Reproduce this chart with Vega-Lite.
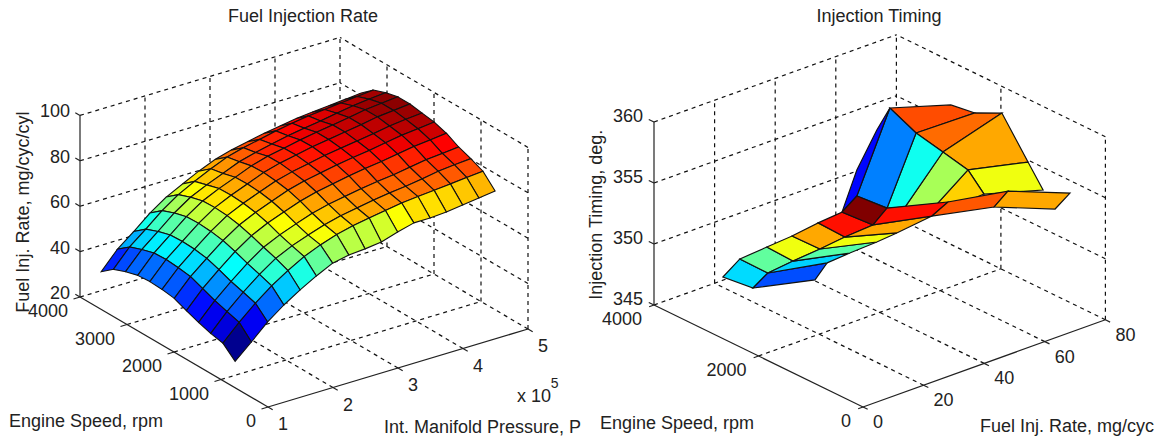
{"$schema":"https://vega.github.io/schema/vega-lite/v6.json","width":1173,"height":444,"padding":0,"autosize":{"type":"fit","contains":"padding"},"background":"white","config":{"view":{"stroke":null}},
"datasets":{
"fuel":[
{"v":1611,"p":5,"s":3549,"z":81},{"v":1511,"p":4.75,"s":3549,"z":80.3},{"v":1411,"p":4.5,"s":3549,"z":79.6},{"v":1311,"p":4.25,"s":3549,"z":79},{"v":1211,"p":4,"s":3549,"z":78.3},{"v":1111,"p":3.75,"s":3549,"z":77.2},{"v":1011,"p":3.5,"s":3549,"z":76},{"v":911,"p":3.25,"s":3549,"z":74.5},{"v":811,"p":3,"s":3549,"z":73},{"v":711,"p":2.75,"s":3549,"z":71},{"v":611,"p":2.5,"s":3549,"z":68},{"v":511,"p":2.25,"s":3549,"z":64.5},{"v":411,"p":2,"s":3549,"z":60.9},{"v":311,"p":1.75,"s":3549,"z":56},{"v":211,"p":1.5,"s":3549,"z":50},{"v":111,"p":1.25,"s":3549,"z":44.4},{"v":11,"p":1,"s":3549,"z":36.6},
{"v":1610,"p":5,"s":3290,"z":85.4},{"v":1510,"p":4.75,"s":3290,"z":84.7},{"v":1410,"p":4.5,"s":3290,"z":84},{"v":1310,"p":4.25,"s":3290,"z":83.3},{"v":1210,"p":4,"s":3290,"z":82.6},{"v":1110,"p":3.75,"s":3290,"z":81.5},{"v":1010,"p":3.5,"s":3290,"z":80.3},{"v":910,"p":3.25,"s":3290,"z":78.7},{"v":810,"p":3,"s":3290,"z":77.2},{"v":710,"p":2.75,"s":3290,"z":75.2},{"v":610,"p":2.5,"s":3290,"z":72.2},{"v":510,"p":2.25,"s":3290,"z":68.8},{"v":410,"p":2,"s":3290,"z":65.1},{"v":310,"p":1.75,"s":3290,"z":60.2},{"v":210,"p":1.5,"s":3290,"z":54.2},{"v":110,"p":1.25,"s":3290,"z":48.5},{"v":10,"p":1,"s":3290,"z":40.8},
{"v":1609,"p":5,"s":3031,"z":87.4},{"v":1509,"p":4.75,"s":3031,"z":86.7},{"v":1409,"p":4.5,"s":3031,"z":85.9},{"v":1309,"p":4.25,"s":3031,"z":84.8},{"v":1209,"p":4,"s":3031,"z":83.5},{"v":1109,"p":3.75,"s":3031,"z":82.5},{"v":1009,"p":3.5,"s":3031,"z":81.3},{"v":909,"p":3.25,"s":3031,"z":79.8},{"v":809,"p":3,"s":3031,"z":78.2},{"v":709,"p":2.75,"s":3031,"z":76.3},{"v":609,"p":2.5,"s":3031,"z":73.3},{"v":509,"p":2.25,"s":3031,"z":70.4},{"v":409,"p":2,"s":3031,"z":67.1},{"v":309,"p":1.75,"s":3031,"z":62.3},{"v":209,"p":1.5,"s":3031,"z":56.3},{"v":109,"p":1.25,"s":3031,"z":50.5},{"v":9,"p":1,"s":3031,"z":42.9},
{"v":1608,"p":5,"s":2772,"z":88.7},{"v":1508,"p":4.75,"s":2772,"z":88},{"v":1408,"p":4.5,"s":2772,"z":87.3},{"v":1308,"p":4.25,"s":2772,"z":86},{"v":1208,"p":4,"s":2772,"z":84.9},{"v":1108,"p":3.75,"s":2772,"z":83.8},{"v":1008,"p":3.5,"s":2772,"z":82.6},{"v":908,"p":3.25,"s":2772,"z":81.1},{"v":808,"p":3,"s":2772,"z":79.7},{"v":708,"p":2.75,"s":2772,"z":77.6},{"v":608,"p":2.5,"s":2772,"z":74.7},{"v":508,"p":2.25,"s":2772,"z":71.9},{"v":408,"p":2,"s":2772,"z":68.6},{"v":308,"p":1.75,"s":2772,"z":63.8},{"v":208,"p":1.5,"s":2772,"z":57.9},{"v":108,"p":1.25,"s":2772,"z":52.1},{"v":8,"p":1,"s":2772,"z":44.4},
{"v":1607,"p":5,"s":2513,"z":88.7},{"v":1507,"p":4.75,"s":2513,"z":88},{"v":1407,"p":4.5,"s":2513,"z":87.3},{"v":1307,"p":4.25,"s":2513,"z":86},{"v":1207,"p":4,"s":2513,"z":84.9},{"v":1107,"p":3.75,"s":2513,"z":83.8},{"v":1007,"p":3.5,"s":2513,"z":82.7},{"v":907,"p":3.25,"s":2513,"z":81.2},{"v":807,"p":3,"s":2513,"z":79.8},{"v":707,"p":2.75,"s":2513,"z":77.8},{"v":607,"p":2.5,"s":2513,"z":74.9},{"v":507,"p":2.25,"s":2513,"z":72.1},{"v":407,"p":2,"s":2513,"z":68.8},{"v":307,"p":1.75,"s":2513,"z":64},{"v":207,"p":1.5,"s":2513,"z":58.2},{"v":107,"p":1.25,"s":2513,"z":52.4},{"v":7,"p":1,"s":2513,"z":44.8},
{"v":1606,"p":5,"s":2254,"z":87.8},{"v":1506,"p":4.75,"s":2254,"z":87.2},{"v":1406,"p":4.5,"s":2254,"z":86.4},{"v":1306,"p":4.25,"s":2254,"z":85.2},{"v":1206,"p":4,"s":2254,"z":84.1},{"v":1106,"p":3.75,"s":2254,"z":83.1},{"v":1006,"p":3.5,"s":2254,"z":82},{"v":906,"p":3.25,"s":2254,"z":80.5},{"v":806,"p":3,"s":2254,"z":79.1},{"v":706,"p":2.75,"s":2254,"z":77.2},{"v":606,"p":2.5,"s":2254,"z":74.5},{"v":506,"p":2.25,"s":2254,"z":71.7},{"v":406,"p":2,"s":2254,"z":68.4},{"v":306,"p":1.75,"s":2254,"z":63.6},{"v":206,"p":1.5,"s":2254,"z":57.9},{"v":106,"p":1.25,"s":2254,"z":51.9},{"v":6,"p":1,"s":2254,"z":44.5},
{"v":1605,"p":5,"s":1995,"z":87},{"v":1505,"p":4.75,"s":1995,"z":86.2},{"v":1405,"p":4.5,"s":1995,"z":85.5},{"v":1305,"p":4.25,"s":1995,"z":84.3},{"v":1205,"p":4,"s":1995,"z":83.1},{"v":1105,"p":3.75,"s":1995,"z":82.1},{"v":1005,"p":3.5,"s":1995,"z":81},{"v":905,"p":3.25,"s":1995,"z":79.6},{"v":805,"p":3,"s":1995,"z":78.2},{"v":705,"p":2.75,"s":1995,"z":76.3},{"v":605,"p":2.5,"s":1995,"z":73.6},{"v":505,"p":2.25,"s":1995,"z":70.8},{"v":405,"p":2,"s":1995,"z":67.4},{"v":305,"p":1.75,"s":1995,"z":62.7},{"v":205,"p":1.5,"s":1995,"z":57},{"v":105,"p":1.25,"s":1995,"z":51.1},{"v":5,"p":1,"s":1995,"z":43.7},
{"v":1604,"p":5,"s":1736,"z":85.2},{"v":1504,"p":4.75,"s":1736,"z":84.4},{"v":1404,"p":4.5,"s":1736,"z":83.7},{"v":1304,"p":4.25,"s":1736,"z":82.5},{"v":1204,"p":4,"s":1736,"z":81.3},{"v":1104,"p":3.75,"s":1736,"z":80.4},{"v":1004,"p":3.5,"s":1736,"z":79.3},{"v":904,"p":3.25,"s":1736,"z":77.9},{"v":804,"p":3,"s":1736,"z":76.5},{"v":704,"p":2.75,"s":1736,"z":74.6},{"v":604,"p":2.5,"s":1736,"z":72},{"v":504,"p":2.25,"s":1736,"z":69.3},{"v":404,"p":2,"s":1736,"z":65.8},{"v":304,"p":1.75,"s":1736,"z":61},{"v":204,"p":1.5,"s":1736,"z":55.2},{"v":104,"p":1.25,"s":1736,"z":49},{"v":4,"p":1,"s":1736,"z":41.4},
{"v":1603,"p":5,"s":1477,"z":82.3},{"v":1503,"p":4.75,"s":1477,"z":81.6},{"v":1403,"p":4.5,"s":1477,"z":81},{"v":1303,"p":4.25,"s":1477,"z":79.8},{"v":1203,"p":4,"s":1477,"z":78.6},{"v":1103,"p":3.75,"s":1477,"z":77.8},{"v":1003,"p":3.5,"s":1477,"z":76.8},{"v":903,"p":3.25,"s":1477,"z":75.5},{"v":803,"p":3,"s":1477,"z":74.2},{"v":703,"p":2.75,"s":1477,"z":72.4},{"v":603,"p":2.5,"s":1477,"z":69.9},{"v":503,"p":2.25,"s":1477,"z":67.2},{"v":403,"p":2,"s":1477,"z":63.9},{"v":303,"p":1.75,"s":1477,"z":58.9},{"v":203,"p":1.5,"s":1477,"z":53.1},{"v":103,"p":1.25,"s":1477,"z":46.8},{"v":3,"p":1,"s":1477,"z":39.4},
{"v":1602,"p":5,"s":1218,"z":80.3},{"v":1502,"p":4.75,"s":1218,"z":79.7},{"v":1402,"p":4.5,"s":1218,"z":79},{"v":1302,"p":4.25,"s":1218,"z":77.8},{"v":1202,"p":4,"s":1218,"z":76.7},{"v":1102,"p":3.75,"s":1218,"z":75.9},{"v":1002,"p":3.5,"s":1218,"z":74.9},{"v":902,"p":3.25,"s":1218,"z":73.6},{"v":802,"p":3,"s":1218,"z":72.3},{"v":702,"p":2.75,"s":1218,"z":70.5},{"v":602,"p":2.5,"s":1218,"z":68.1},{"v":502,"p":2.25,"s":1218,"z":65.5},{"v":402,"p":2,"s":1218,"z":62.1},{"v":302,"p":1.75,"s":1218,"z":57.2},{"v":202,"p":1.5,"s":1218,"z":51.5},{"v":102,"p":1.25,"s":1218,"z":45.1},{"v":2,"p":1,"s":1218,"z":37.7},
{"v":1601,"p":5,"s":959,"z":77.9},{"v":1501,"p":4.75,"s":959,"z":77.3},{"v":1401,"p":4.5,"s":959,"z":76.6},{"v":1301,"p":4.25,"s":959,"z":75.9},{"v":1201,"p":4,"s":959,"z":75.3},{"v":1101,"p":3.75,"s":959,"z":74.6},{"v":1001,"p":3.5,"s":959,"z":73.5},{"v":901,"p":3.25,"s":959,"z":72.3},{"v":801,"p":3,"s":959,"z":71},{"v":701,"p":2.75,"s":959,"z":69.3},{"v":601,"p":2.5,"s":959,"z":66.9},{"v":501,"p":2.25,"s":959,"z":63.9},{"v":401,"p":2,"s":959,"z":59.9},{"v":301,"p":1.75,"s":959,"z":55.3},{"v":201,"p":1.5,"s":959,"z":49.8},{"v":101,"p":1.25,"s":959,"z":43.5},{"v":1,"p":1,"s":959,"z":36.5},
{"v":1600,"p":5,"s":700,"z":72.3},{"v":1500,"p":4.75,"s":700,"z":71.4},{"v":1400,"p":4.5,"s":700,"z":70.4},{"v":1300,"p":4.25,"s":700,"z":69.5},{"v":1200,"p":4,"s":700,"z":69},{"v":1100,"p":3.75,"s":700,"z":69},{"v":1000,"p":3.5,"s":700,"z":67.1},{"v":900,"p":3.25,"s":700,"z":64.9},{"v":800,"p":3,"s":700,"z":64},{"v":700,"p":2.75,"s":700,"z":63.4},{"v":600,"p":2.5,"s":700,"z":62},{"v":500,"p":2.25,"s":700,"z":58.5},{"v":400,"p":2,"s":700,"z":54.5},{"v":300,"p":1.75,"s":700,"z":50},{"v":200,"p":1.5,"s":700,"z":44.7},{"v":100,"p":1.25,"s":700,"z":38},{"v":0,"p":1,"s":700,"z":31.6}
],
"frameL":[
{"k":"g","p1":2,"s1":0,"z1":20,"p2":2,"s2":4000,"z2":20},{"k":"g","p1":3,"s1":0,"z1":20,"p2":3,"s2":4000,"z2":20},{"k":"g","p1":4,"s1":0,"z1":20,"p2":4,"s2":4000,"z2":20},{"k":"g","p1":5,"s1":0,"z1":20,"p2":5,"s2":4000,"z2":20},
{"k":"g","p1":1,"s1":1000,"z1":20,"p2":5,"s2":1000,"z2":20},{"k":"g","p1":1,"s1":2000,"z1":20,"p2":5,"s2":2000,"z2":20},{"k":"g","p1":1,"s1":3000,"z1":20,"p2":5,"s2":3000,"z2":20},{"k":"g","p1":1,"s1":4000,"z1":20,"p2":5,"s2":4000,"z2":20},
{"k":"g","p1":2,"s1":4000,"z1":20,"p2":2,"s2":4000,"z2":100},{"k":"g","p1":3,"s1":4000,"z1":20,"p2":3,"s2":4000,"z2":100},{"k":"g","p1":4,"s1":4000,"z1":20,"p2":4,"s2":4000,"z2":100},{"k":"g","p1":5,"s1":4000,"z1":20,"p2":5,"s2":4000,"z2":100},
{"k":"g","p1":1,"s1":4000,"z1":40,"p2":5,"s2":4000,"z2":40},{"k":"g","p1":1,"s1":4000,"z1":60,"p2":5,"s2":4000,"z2":60},{"k":"g","p1":1,"s1":4000,"z1":80,"p2":5,"s2":4000,"z2":80},{"k":"g","p1":1,"s1":4000,"z1":100,"p2":5,"s2":4000,"z2":100},
{"k":"g","p1":5,"s1":0,"z1":20,"p2":5,"s2":0,"z2":100},{"k":"g","p1":5,"s1":1000,"z1":20,"p2":5,"s2":1000,"z2":100},{"k":"g","p1":5,"s1":2000,"z1":20,"p2":5,"s2":2000,"z2":100},{"k":"g","p1":5,"s1":3000,"z1":20,"p2":5,"s2":3000,"z2":100},
{"k":"g","p1":5,"s1":0,"z1":40,"p2":5,"s2":4000,"z2":40},{"k":"g","p1":5,"s1":0,"z1":60,"p2":5,"s2":4000,"z2":60},{"k":"g","p1":5,"s1":0,"z1":80,"p2":5,"s2":4000,"z2":80},{"k":"g","p1":5,"s1":0,"z1":100,"p2":5,"s2":4000,"z2":100},
{"k":"a","p1":1,"s1":0,"z1":20,"p2":1,"s2":4000,"z2":20},{"k":"a","p1":1,"s1":0,"z1":20,"p2":5,"s2":0,"z2":20},{"k":"a","p1":1,"s1":4000,"z1":20,"p2":1,"s2":4000,"z2":100},
{"k":"a","p1":0.9,"s1":0,"z1":20,"p2":1,"s2":0,"z2":20},{"k":"a","p1":0.9,"s1":1000,"z1":20,"p2":1,"s2":1000,"z2":20},{"k":"a","p1":0.9,"s1":2000,"z1":20,"p2":1,"s2":2000,"z2":20},{"k":"a","p1":0.9,"s1":3000,"z1":20,"p2":1,"s2":3000,"z2":20},{"k":"a","p1":0.9,"s1":4000,"z1":20,"p2":1,"s2":4000,"z2":20},
{"k":"a","p1":1,"s1":-100,"z1":20,"p2":1,"s2":0,"z2":20},{"k":"a","p1":2,"s1":-100,"z1":20,"p2":2,"s2":0,"z2":20},{"k":"a","p1":3,"s1":-100,"z1":20,"p2":3,"s2":0,"z2":20},{"k":"a","p1":4,"s1":-100,"z1":20,"p2":4,"s2":0,"z2":20},{"k":"a","p1":5,"s1":-100,"z1":20,"p2":5,"s2":0,"z2":20},
{"k":"a","p1":1,"s1":4000,"z1":20,"p2":1,"s2":4100,"z2":20},{"k":"a","p1":1,"s1":4000,"z1":40,"p2":1,"s2":4100,"z2":40},{"k":"a","p1":1,"s1":4000,"z1":60,"p2":1,"s2":4100,"z2":60},{"k":"a","p1":1,"s1":4000,"z1":80,"p2":1,"s2":4100,"z2":80},{"k":"a","p1":1,"s1":4000,"z1":100,"p2":1,"s2":4100,"z2":100}
],
"textL":[
{"label":"0","a":"s","p":1,"s":0,"z":20},{"label":"1000","a":"s","p":1,"s":1000,"z":20},{"label":"2000","a":"s","p":1,"s":2000,"z":20},{"label":"3000","a":"s","p":1,"s":3000,"z":20},{"label":"4000","a":"s","p":1,"s":4000,"z":20},
{"label":"1","a":"p","p":1,"s":0,"z":20},{"label":"2","a":"p","p":2,"s":0,"z":20},{"label":"3","a":"p","p":3,"s":0,"z":20},{"label":"4","a":"p","p":4,"s":0,"z":20},{"label":"5","a":"p","p":5,"s":0,"z":20},
{"label":"20","a":"z","p":1,"s":4000,"z":20},{"label":"40","a":"z","p":1,"s":4000,"z":40},{"label":"60","a":"z","p":1,"s":4000,"z":60},{"label":"80","a":"z","p":1,"s":4000,"z":80},{"label":"100","a":"z","p":1,"s":4000,"z":100},
{"label":"Fuel Injection Rate","a":"t","p":1.538,"s":0,"z":187.2},{"label":"Engine Speed, rpm","a":"t","p":-1.8,"s":0,"z":37.4},
{"label":"Fuel Inj. Rate, mg/cyc/cyl","a":"v","p":-2.754,"s":0,"z":138.1},
{"label":"Int. Manifold Pressure, P","a":"l","p":2.785,"s":0,"z":-4.6},{"label":"x 10","a":"e","p":4.83,"s":0,"z":-8.5},{"label":"5","a":"u","p":5.35,"s":0,"z":-7.3}
],
"timingVertices":[
{"id":"a","F":12.4,"s":3400,"z":347.44},{"id":"b","F":18,"s":3400,"z":348.42},{"id":"e","F":26.9,"s":3400,"z":348.6},{"id":"f","F":35.2,"s":3400,"z":348.76},{"id":"g","F":43.8,"s":3400,"z":349.07},{"id":"h","F":51.7,"s":3400,"z":349.25},{"id":"m","F":56.6,"s":3400,"z":350.13},{"id":"t0","F":67.5,"s":3400,"z":356.37},{"id":"b1","F":56.6,"s":3400,"z":352.26},{"id":"b2","F":63.2,"s":3400,"z":354.95},
{"id":"c","F":12,"s":2800,"z":347.83},{"id":"d","F":16.9,"s":2800,"z":348.62},{"id":"n2","F":25.2,"s":2800,"z":348.86},{"id":"n3","F":34.1,"s":2800,"z":349.05},{"id":"n4","F":42.3,"s":2800,"z":349.3},{"id":"n5","F":51.6,"s":2800,"z":349.46},{"id":"n6","F":56.2,"s":2800,"z":350.43},{"id":"t1","F":65.8,"s":2800,"z":355.73},
{"id":"x2","F":22.1,"s":2200,"z":348.84},{"id":"x1","F":26.1,"s":2200,"z":349.88},{"id":"x3","F":33.6,"s":2200,"z":350.02},{"id":"x4","F":42.5,"s":2200,"z":350.13},{"id":"x5","F":49.1,"s":2200,"z":350.28},{"id":"x6","F":60.7,"s":2200,"z":350.63},{"id":"x7","F":66,"s":2200,"z":351.31},{"id":"t2","F":64.3,"s":2200,"z":355.56},{"id":"h1","F":51.8,"s":2200,"z":352.16},{"id":"h2","F":62.4,"s":2200,"z":351.47},
{"id":"y6","F":69.1,"s":1500,"z":352.08},{"id":"y7","F":73.7,"s":1500,"z":352.98},{"id":"t3","F":60.5,"s":1500,"z":355.89},{"id":"t4","F":65.8,"s":1500,"z":353.44},{"id":"h3","F":49.6,"s":1500,"z":353.17},
{"id":"z6","F":70.3,"s":400,"z":354.11},{"id":"z7","F":75.2,"s":400,"z":354.98},
{"id":"u1","F":72.1,"s":2500,"z":358.09},{"id":"u2","F":80,"s":2500,"z":356.73},{"id":"u3","F":78.6,"s":1900,"z":358.1},{"id":"u4","F":78.6,"s":1400,"z":355.13},{"id":"u5","F":78.4,"s":1100,"z":353.48}
],
"timingCells":[
{"cell":"c01","t":0.8,"v":["t0","u1","u2","t1"],"n":[0,1,2,3]},{"cell":"c02","t":0.77,"v":["t1","u2","u3","t2"],"n":[0,1,2,3]},{"cell":"c03","t":0.71,"v":["t2","u3","u4","t3"],"n":[0,1,2,3]},{"cell":"c04","t":0.61,"v":["t3","u4","u5","t4"],"n":[0,1,2,3]},{"cell":"c05","t":0.67,"v":["t3","t4","h3","h2"],"n":[0,1,2,3]},{"cell":"c06","t":0.54,"v":["t2","t3","h2","h1"],"n":[0,1,2,3]},{"cell":"c07","t":0.39,"v":["t1","t2","h1","n6"],"n":[0,1,2,3]},{"cell":"c08","t":0.25,"v":["m","t0","t1","n6"],"n":[0,1,2,3]},{"cell":"c09","t":0.13,"v":["h","b1","b2","t0","m"],"n":[0,1,2,3,4]},
{"cell":"c10","t":0.34,"v":["a","b","d","c"],"n":[0,1,2,3]},{"cell":"c11","t":0.47,"v":["b","e","n2","d"],"n":[0,1,2,3]},{"cell":"c12","t":0.61,"v":["e","f","n3","n2"],"n":[0,1,2,3]},{"cell":"c13","t":0.71,"v":["f","g","n4","n3"],"n":[0,1,2,3]},{"cell":"c14","t":0.86,"v":["g","h","n5","n4"],"n":[0,1,2,3]},{"cell":"c15","t":1,"v":["h","m","n6","n5"],"n":[0,1,2,3]},
{"cell":"c16","t":0.2,"v":["c","d","x1","x2"],"n":[0,1,2,3]},{"cell":"c17","t":0.33,"v":["d","n2","x3","x1"],"n":[0,1,2,3]},{"cell":"c18","t":0.46,"v":["n2","n3","x4","x3"],"n":[0,1,2,3]},{"cell":"c19","t":0.61,"v":["n3","n4","x5","x4"],"n":[0,1,2,3]},{"cell":"c20","t":0.71,"v":["n4","n5","x6","x5"],"n":[0,1,2,3]},
{"cell":"c21","t":0.86,"v":["n5","n6","x7","x6"],"n":[0,1,2,3]},{"cell":"c22","t":0.79,"v":["x6","x7","y7","y6"],"n":[0,1,2,3]},{"cell":"c23","t":0.71,"v":["y6","y7","z7","z6"],"n":[0,1,2,3]}
],
"frameR":[
{"k":"g","f1":20,"s1":0,"z1":345,"f2":20,"s2":4000,"z2":345},{"k":"g","f1":40,"s1":0,"z1":345,"f2":40,"s2":4000,"z2":345},{"k":"g","f1":60,"s1":0,"z1":345,"f2":60,"s2":4000,"z2":345},{"k":"g","f1":80,"s1":0,"z1":345,"f2":80,"s2":4000,"z2":345},
{"k":"g","f1":0,"s1":2000,"z1":345,"f2":80,"s2":2000,"z2":345},{"k":"g","f1":0,"s1":4000,"z1":345,"f2":80,"s2":4000,"z2":345},
{"k":"g","f1":20,"s1":4000,"z1":345,"f2":20,"s2":4000,"z2":360},{"k":"g","f1":40,"s1":4000,"z1":345,"f2":40,"s2":4000,"z2":360},{"k":"g","f1":60,"s1":4000,"z1":345,"f2":60,"s2":4000,"z2":360},{"k":"g","f1":80,"s1":4000,"z1":345,"f2":80,"s2":4000,"z2":360},
{"k":"g","f1":0,"s1":4000,"z1":350,"f2":80,"s2":4000,"z2":350},{"k":"g","f1":0,"s1":4000,"z1":355,"f2":80,"s2":4000,"z2":355},{"k":"g","f1":0,"s1":4000,"z1":360,"f2":80,"s2":4000,"z2":360},
{"k":"g","f1":80,"s1":0,"z1":345,"f2":80,"s2":0,"z2":360},{"k":"g","f1":80,"s1":2000,"z1":345,"f2":80,"s2":2000,"z2":360},
{"k":"g","f1":80,"s1":0,"z1":350,"f2":80,"s2":4000,"z2":350},{"k":"g","f1":80,"s1":0,"z1":355,"f2":80,"s2":4000,"z2":355},{"k":"g","f1":80,"s1":0,"z1":360,"f2":80,"s2":4000,"z2":360},
{"k":"a","f1":0,"s1":0,"z1":345,"f2":0,"s2":4000,"z2":345},{"k":"a","f1":0,"s1":0,"z1":345,"f2":80,"s2":0,"z2":345},{"k":"a","f1":0,"s1":4000,"z1":345,"f2":0,"s2":4000,"z2":360},
{"k":"a","f1":-1.6,"s1":0,"z1":345,"f2":0,"s2":0,"z2":345},{"k":"a","f1":-1.6,"s1":2000,"z1":345,"f2":0,"s2":2000,"z2":345},{"k":"a","f1":-1.6,"s1":4000,"z1":345,"f2":0,"s2":4000,"z2":345},
{"k":"a","f1":0,"s1":-90,"z1":345,"f2":0,"s2":0,"z2":345},{"k":"a","f1":20,"s1":-90,"z1":345,"f2":20,"s2":0,"z2":345},{"k":"a","f1":40,"s1":-90,"z1":345,"f2":40,"s2":0,"z2":345},{"k":"a","f1":60,"s1":-90,"z1":345,"f2":60,"s2":0,"z2":345},{"k":"a","f1":80,"s1":-90,"z1":345,"f2":80,"s2":0,"z2":345},
{"k":"a","f1":0,"s1":4000,"z1":345,"f2":0,"s2":4100,"z2":345},{"k":"a","f1":0,"s1":4000,"z1":350,"f2":0,"s2":4100,"z2":350},{"k":"a","f1":0,"s1":4000,"z1":355,"f2":0,"s2":4100,"z2":355},{"k":"a","f1":0,"s1":4000,"z1":360,"f2":0,"s2":4100,"z2":360}
],
"textR":[
{"label":"0","a":"s","F":0,"s":0,"z":345},{"label":"2000","a":"s","F":0,"s":2000,"z":345},{"label":"4000","a":"s","F":0,"s":4000,"z":345},
{"label":"0","a":"p","F":0,"s":0,"z":345},{"label":"20","a":"p","F":20,"s":0,"z":345},{"label":"40","a":"p","F":40,"s":0,"z":345},{"label":"60","a":"p","F":60,"s":0,"z":345},{"label":"80","a":"p","F":80,"s":0,"z":345},
{"label":"345","a":"z","F":0,"s":4000,"z":345},{"label":"350","a":"z","F":0,"s":4000,"z":350},{"label":"355","a":"z","F":0,"s":4000,"z":355},{"label":"360","a":"z","F":0,"s":4000,"z":360},
{"label":"Injection Timing","a":"t","F":5.28,"s":0,"z":376.5},{"label":"Engine Speed, rpm","a":"t","F":-61.4,"s":0,"z":349.09},{"label":"Fuel Inj. Rate, mg/cyc","a":"t","F":67.3,"s":0,"z":337.34},
{"label":"Injection Timing, deg.","a":"v","F":-87.8,"s":0,"z":368.6}
]
},
"data":{"name":"fuel"},
"encoding":{
"x":{"field":"x","type":"quantitative","scale":{"domain":[0,1173],"nice":false,"zero":false},"axis":null},
"y":{"field":"y","type":"quantitative","scale":{"domain":[444,0],"nice":false,"zero":false},"axis":null}
},
"layer":[
{"data":{"name":"frameL"},"transform":[
{"calculate":"268+65*(datum.p1-1)-0.047*datum.s1","as":"x"},{"calculate":"407-19.5*(datum.p1-1)-0.0275*datum.s1-2.27*(datum.z1-20)","as":"y"},
{"calculate":"268+65*(datum.p2-1)-0.047*datum.s2","as":"x2"},{"calculate":"407-19.5*(datum.p2-1)-0.0275*datum.s2-2.27*(datum.z2-20)","as":"y2"}],
"layer":[
{"transform":[{"filter":"datum.k=='g'"}],"mark":{"type":"rule","color":"#111","strokeWidth":1.2,"strokeDash":[4,4]},"encoding":{"x2":{"field":"x2"},"y2":{"field":"y2"}}}
]},
{"data":{"name":"frameR"},"transform":[
{"calculate":"863+3.03*datum.f1-0.05225*datum.s1","as":"x"},{"calculate":"407-1.09*datum.f1-0.0255*datum.s1-12.2*(datum.z1-345)","as":"y"},
{"calculate":"863+3.03*datum.f2-0.05225*datum.s2","as":"x2"},{"calculate":"407-1.09*datum.f2-0.0255*datum.s2-12.2*(datum.z2-345)","as":"y2"}],
"layer":[
{"transform":[{"filter":"datum.k=='g'"}],"mark":{"type":"rule","color":"#111","strokeWidth":1.2,"strokeDash":[4,4]},"encoding":{"x2":{"field":"x2"},"y2":{"field":"y2"}}}
]},
{"data":{"name":"fuel"},"transform":[
{"filter":"floor(datum.v/100)<16 && datum.v%100<11"},
{"calculate":"[0,1,2,3]","as":"n"},{"flatten":["n"]},
{"calculate":"datum.v+((datum.n==1||datum.n==2)?100:0)+((datum.n==2||datum.n==3)?1:0)","as":"ck"},
{"lookup":"ck","from":{"data":{"name":"fuel"},"key":"v","fields":["p","s","z"]},"as":["cp","cs","cz"]},
{"calculate":"'c'+datum.v","as":"cell"},
{"calculate":"(datum.z-31.6)/57.1","as":"t"},
{"calculate":"268+65*(datum.cp-1)-0.047*datum.cs","as":"x"},
{"calculate":"407-19.5*(datum.cp-1)-0.0275*datum.cs-2.27*(datum.cz-20)","as":"y"}],
"mark":{"type":"line","interpolate":"linear-closed","stroke":"#111","strokeWidth":1.1},
"encoding":{"detail":{"field":"cell"},"order":{"field":"n","type":"quantitative"},
"fill":{"field":"t","type":"quantitative","legend":null,"scale":{"domain":[0,0.125,0.375,0.625,0.875,1],"interpolate":"rgb","range":["#00008f","#0000ff","#00ffff","#ffff00","#ff0000","#800000"]}}}},
{"data":{"name":"timingCells"},"transform":[
{"flatten":["v","n"]},
{"lookup":"v","from":{"data":{"name":"timingVertices"},"key":"id","fields":["F","s","z"]}},
{"calculate":"863+3.03*datum.F-0.05225*datum.s","as":"x"},
{"calculate":"407-1.09*datum.F-0.0255*datum.s-12.2*(datum.z-345)","as":"y"}],
"mark":{"type":"line","interpolate":"linear-closed","stroke":"#111","strokeWidth":1.2},
"encoding":{"detail":{"field":"cell"},"order":{"field":"n","type":"quantitative"},
"fill":{"field":"t","type":"quantitative","legend":null,"scale":{"domain":[0,0.125,0.375,0.625,0.875,1],"interpolate":"rgb","range":["#00008f","#0000ff","#00ffff","#ffff00","#ff0000","#800000"]}}}},
{"data":{"name":"frameL"},"transform":[{"filter":"datum.k=='a'"},
{"calculate":"268+65*(datum.p1-1)-0.047*datum.s1","as":"x"},{"calculate":"407-19.5*(datum.p1-1)-0.0275*datum.s1-2.27*(datum.z1-20)","as":"y"},
{"calculate":"268+65*(datum.p2-1)-0.047*datum.s2","as":"x2"},{"calculate":"407-19.5*(datum.p2-1)-0.0275*datum.s2-2.27*(datum.z2-20)","as":"y2"}],
"mark":{"type":"rule","color":"#222","strokeWidth":1.2},"encoding":{"x2":{"field":"x2"},"y2":{"field":"y2"}}},
{"data":{"name":"frameR"},"transform":[{"filter":"datum.k=='a'"},
{"calculate":"863+3.03*datum.f1-0.05225*datum.s1","as":"x"},{"calculate":"407-1.09*datum.f1-0.0255*datum.s1-12.2*(datum.z1-345)","as":"y"},
{"calculate":"863+3.03*datum.f2-0.05225*datum.s2","as":"x2"},{"calculate":"407-1.09*datum.f2-0.0255*datum.s2-12.2*(datum.z2-345)","as":"y2"}],
"mark":{"type":"rule","color":"#222","strokeWidth":1.2},"encoding":{"x2":{"field":"x2"},"y2":{"field":"y2"}}},
{"data":{"name":"textL"},"transform":[
{"calculate":"268+65*(datum.p-1)-0.047*datum.s","as":"x"},{"calculate":"407-19.5*(datum.p-1)-0.0275*datum.s-2.27*(datum.z-20)","as":"y"}],
"encoding":{"text":{"field":"label"}},
"layer":[
{"transform":[{"filter":"datum.a=='s'"}],"mark":{"type":"text","font":"Liberation Sans","fontSize":18,"color":"#222","align":"right","baseline":"middle","dx":-12,"dy":15}},
{"transform":[{"filter":"datum.a=='p'"}],"mark":{"type":"text","font":"Liberation Sans","fontSize":18,"color":"#222","align":"center","baseline":"middle","dx":15,"dy":18}},
{"transform":[{"filter":"datum.a=='z'"}],"mark":{"type":"text","font":"Liberation Sans","fontSize":18,"color":"#222","align":"right","baseline":"middle","dx":-10,"dy":-3}},
{"transform":[{"filter":"datum.a=='t'"}],"mark":{"type":"text","font":"Liberation Sans","fontSize":18,"color":"#222","align":"center","baseline":"middle"}},
{"transform":[{"filter":"datum.a=='v'"}],"mark":{"type":"text","font":"Liberation Sans","fontSize":18,"color":"#222","align":"center","baseline":"middle","angle":270}},
{"transform":[{"filter":"datum.a=='l'"}],"mark":{"type":"text","font":"Liberation Sans","fontSize":18,"color":"#222","align":"left","baseline":"middle"}},
{"transform":[{"filter":"datum.a=='e'"}],"mark":{"type":"text","font":"Liberation Sans","fontSize":18,"color":"#222","align":"left","baseline":"middle"}},
{"transform":[{"filter":"datum.a=='u'"}],"mark":{"type":"text","font":"Liberation Sans","fontSize":14,"color":"#222","align":"left","baseline":"middle"}}
]},
{"data":{"name":"textR"},"transform":[
{"calculate":"863+3.03*datum.F-0.05225*datum.s","as":"x"},{"calculate":"407-1.09*datum.F-0.0255*datum.s-12.2*(datum.z-345)","as":"y"}],
"encoding":{"text":{"field":"label"}},
"layer":[
{"transform":[{"filter":"datum.a=='s'"}],"mark":{"type":"text","font":"Liberation Sans","fontSize":18,"color":"#222","align":"right","baseline":"middle","dx":-12,"dy":15}},
{"transform":[{"filter":"datum.a=='p'"}],"mark":{"type":"text","font":"Liberation Sans","fontSize":18,"color":"#222","align":"left","baseline":"middle","dx":10,"dy":16}},
{"transform":[{"filter":"datum.a=='z'"}],"mark":{"type":"text","font":"Liberation Sans","fontSize":18,"color":"#222","align":"right","baseline":"middle","dx":-11,"dy":-5}},
{"transform":[{"filter":"datum.a=='t'"}],"mark":{"type":"text","font":"Liberation Sans","fontSize":18,"color":"#222","align":"center","baseline":"middle"}},
{"transform":[{"filter":"datum.a=='v'"}],"mark":{"type":"text","font":"Liberation Sans","fontSize":18,"color":"#222","align":"center","baseline":"middle","angle":270}}
]}
]}
